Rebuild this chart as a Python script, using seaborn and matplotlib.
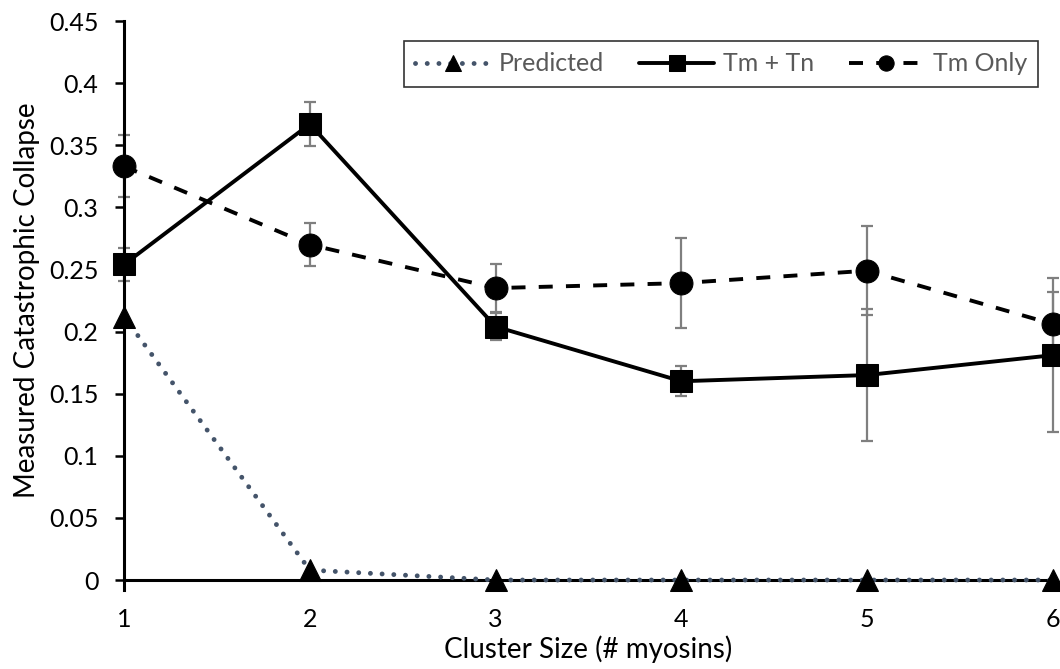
#!/usr/bin/env python3

import pandas as pd
import matplotlib.pyplot as plt
import seaborn as sns

# Cluster size (# myosins)
cluster_size = [1, 2, 3, 4, 5, 6]

# Series values
predicted = [0.212, 0.008, 0.0, 0.0, 0.0, 0.0]
tm_tn = [0.254, 0.367, 0.204, 0.160, 0.165, 0.181]
tm_tn_err = [0.013, 0.018, 0.011, 0.012, 0.053, 0.062]
tm_only = [0.333, 0.270, 0.235, 0.239, 0.249, 0.206]
tm_only_err = [0.025, 0.017, 0.019, 0.036, 0.036, 0.026]

y_ticks = [0, 0.05, 0.1, 0.15, 0.2, 0.25, 0.3, 0.35, 0.4, 0.45]
y_tick_labels = ['0', '0.05', '0.1', '0.15', '0.2', '0.25', '0.3', '0.35', '0.4', '0.45']


def main():
    sns.set_theme(style="white")
    plt.rcParams['font.family'] = ['Lato', 'DejaVu Sans']

    df = pd.DataFrame({
        'size': cluster_size * 3,
        'value': predicted + tm_tn + tm_only,
        'series': ['Predicted'] * 6 + ['Tm + Tn'] * 6 + ['Tm Only'] * 6,
    })

    fig, ax = plt.subplots(figsize=(10.6, 6.69), dpi=100)
    fig.subplots_adjust(left=0.117, right=0.9934, bottom=0.133, top=0.9686)

    # error bars (grey, with caps) drawn underneath the lines
    for vals, errs in [(tm_tn, tm_tn_err), (tm_only, tm_only_err)]:
        ax.errorbar(cluster_size, vals, yerr=errs, fmt='none', ecolor='#7f7f7f',
                    elinewidth=1.6, capsize=4, capthick=1.6, zorder=2, clip_on=False)

    styles = {
        'Predicted': dict(color='#44546A', linestyle=(0, (0.01, 2.4)), marker='^',
                          markersize=16, lw=3.5),
        'Tm + Tn': dict(color='black', linestyle='-', marker='s', markersize=16, lw=2.8),
        'Tm Only': dict(color='black', linestyle=(0, (3.6, 3.4)), marker='o',
                        markersize=16.5, lw=2.8),
    }
    for name in ['Predicted', 'Tm + Tn', 'Tm Only']:
        st = styles[name]
        sub = df[df['series'] == name]
        sns.lineplot(data=sub, x='size', y='value', ax=ax, label=name,
                     color=st['color'], linestyle=st['linestyle'], linewidth=st['lw'],
                     marker=st['marker'], markersize=st['markersize'],
                     markerfacecolor='black', markeredgecolor='black',
                     dash_capstyle='round' if name == 'Predicted' else 'butt',
                     zorder=3, clip_on=False)

    ax.set_xlim(1, 6)
    ax.set_ylim(0, 0.45)
    ax.set_xticks(cluster_size)
    ax.set_yticks(y_ticks)
    ax.set_yticklabels(y_tick_labels)

    ax.set_xlabel('Cluster Size (# myosins)', fontsize=20, color='black', labelpad=3)
    ax.set_ylabel('Measured Catastrophic Collapse', fontsize=20, color='black', labelpad=6)
    ax.tick_params(axis='y', labelsize=18, colors='black', direction='out',
                   length=6.5, width=1.8, left=True, pad=12)
    ax.tick_params(axis='x', labelsize=18, colors='black', length=0, pad=20)

    for side in ['top', 'right']:
        ax.spines[side].set_visible(False)
    for side in ['left', 'bottom']:
        ax.spines[side].set_color('black')
        ax.spines[side].set_linewidth(2.2)
    ax.spines['left'].set_bounds(-0.008, 0.45)

    leg = ax.legend(loc='upper right', bbox_to_anchor=(0.984, 0.964), ncol=3,
                    fontsize=18, frameon=True, fancybox=False, handlelength=3.0,
                    columnspacing=1.4, handletextpad=0.35, borderpad=0.45,
                    borderaxespad=0)
    leg.get_frame().set_edgecolor('black')
    leg.get_frame().set_linewidth(1.2)
    for t in leg.get_texts():
        t.set_color('#595959')
    for h in leg.legend_handles:
        h.set_markersize(11)

    plt.savefig('out.png', dpi=100)


if __name__ == "__main__":
    main()
